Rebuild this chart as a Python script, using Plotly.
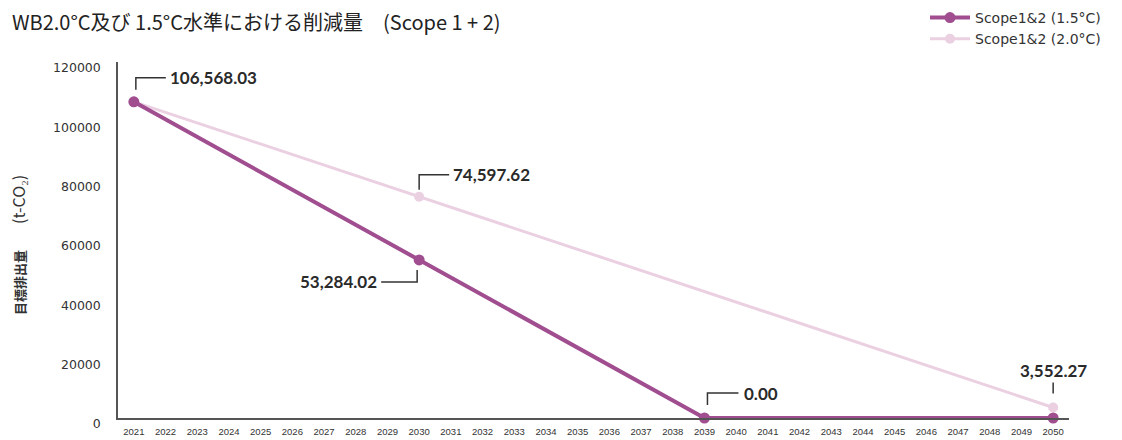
import plotly.graph_objects as go

# ---- data ----
years_15 = [2021, 2030, 2039, 2050]
values_15 = [106568.03, 53284.02, 0.0, 0.0]
years_20 = [2021, 2030, 2050]
values_20 = [106568.03, 74597.62, 3552.27]
all_years = list(range(2021, 2051))
y_ticks = [0, 20000, 40000, 60000, 80000, 100000, 120000]

title_text = "WB2.0°C及び 1.5°C水準における削減量　(Scope 1 + 2)"
name_15 = "Scope1&2 (1.5°C)"
name_20 = "Scope1&2 (2.0°C)"
y_title = "<b>目標排出量</b>　　<span style='font-size:16px'>(t-CO₂)</span>"

# label annotations: (year, value, text, leader path in px, xshift, yshift, xanchor)
labels = [
    (2021, 106568.03, "106,568.03", "M 2,12 L 2,24 L 32,24", 34, 24, "left"),
    (2030, 74597.62, "74,597.62", "M 0,7 L 0,22 L 30,22", 32, 22, "left"),
    (2030, 53284.02, "53,284.02", "M -2,-10 L -2,-22 L -38,-22", -40, -22, "right"),
    (2039, 0.0, "0.00", "M 3,13 L 3,25 L 34,25", 38, 25, "left"),
    (2050, 3552.27, "3,552.27", "M 0,14 L 0,25", 0, 37, "center"),
]

C15 = "#a04e90"
C20 = "#ebd0e2"

fig = go.Figure()
fig.add_trace(go.Scatter(
    x=years_20, y=values_20, name=name_20, mode="lines+markers",
    line=dict(color=C20, width=3), marker=dict(color=C20, size=10),
    legendrank=2, cliponaxis=False,
))
fig.add_trace(go.Scatter(
    x=years_15, y=values_15, name=name_15, mode="lines+markers",
    line=dict(color=C15, width=4), marker=dict(color=C15, size=11),
    legendrank=1, cliponaxis=False,
))

W, H = 1122, 440
L, R, T, B = 118, 53, 62, 22
pw, ph = W - L - R, H - T - B

shapes = []
annotations = []
for yr, val, txt, path, xs, ys, xa in labels:
    shapes.append(dict(
        type="path", xref="x", yref="y", xsizemode="pixel", ysizemode="pixel",
        xanchor=yr, yanchor=val, path=path,
        line=dict(color="#333333", width=1.5),
    ))
    annotations.append(dict(
        x=yr, y=val, xref="x", yref="y", text=txt, showarrow=False,
        xshift=xs, yshift=ys, xanchor=xa, yanchor="middle",
        font=dict(family="Lato, Noto Sans", size=17, color="#2a2a2a", weight="bold"),
    ))

annotations.append(dict(
    x=0, y=0.5, xref="paper", yref="paper", xshift=-100, yshift=-5, text=y_title,
    textangle=-90, showarrow=False, xanchor="center", yanchor="middle",
    font=dict(family="Noto Sans CJK JP", size=13, color="#333333"),
))
annotations.append(dict(
    x=(10 - L) / pw, y=(H - B - 22) / ph, xref="paper", yref="paper",
    text=title_text, showarrow=False, xanchor="left", yanchor="middle",
    font=dict(family="Noto Sans CJK JP", size=20, color="#222222"),
))

fig.update_layout(
    width=W, height=H,
    margin=dict(l=L, r=R, t=T, b=B, autoexpand=False),
    paper_bgcolor="white", plot_bgcolor="white",
    showlegend=True,
    legend=dict(
        x=(925 - L) / pw, y=(H - B - 2) / ph, xanchor="left", yanchor="top",
        font=dict(family="DejaVu Sans", size=14, color="#333333"),
        bgcolor="rgba(0,0,0,0)", tracegroupgap=0, itemwidth=40,
    ),
    xaxis=dict(
        range=[2020.5, 2050.5], tickmode="array", tickvals=all_years,
        ticktext=[str(y) for y in all_years], showgrid=False, zeroline=False,
        showline=True, linecolor="#555555", linewidth=1.5, ticks="",
        tickfont=dict(family="Liberation Sans", size=9.5, color="#333333"),
        ticklabelstandoff=4, automargin=False,
    ),
    yaxis=dict(
        range=[0, 120000], tickmode="array", tickvals=y_ticks,
        ticktext=[str(v) for v in y_ticks], showgrid=False, zeroline=False,
        showline=True, linecolor="#555555", linewidth=1.5, ticks="",
        tickfont=dict(family="DejaVu Sans", size=12.5, color="#333333"),
        ticklabelstandoff=13, ticklabelshift=6, automargin=False,
    ),
    shapes=shapes,
    annotations=annotations,
)

fig.write_html("out.html")
